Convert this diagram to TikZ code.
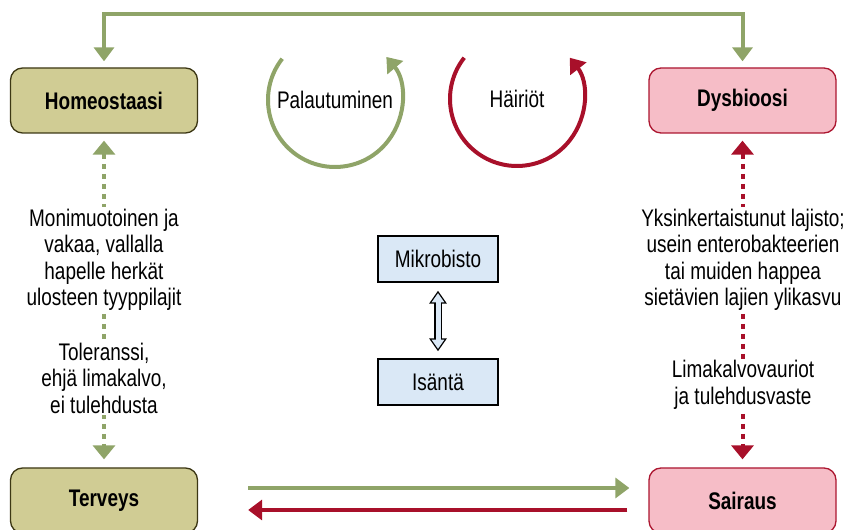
\documentclass[tikz,border=0pt]{standalone}
\usepackage{fontspec}
\setmainfont[FakeStretch=0.79]{Liberation Sans}
\usepackage{tikz}
\usetikzlibrary{arrows.meta,positioning}
\definecolor{olivefill}{RGB}{208,204,148}
\definecolor{olivedraw}{RGB}{60,55,20}
\definecolor{pinkfill}{RGB}{246,189,199}
\definecolor{reddraw}{RGB}{172,22,48}
\definecolor{sage}{RGB}{143,164,104}
\definecolor{darkred}{RGB}{168,16,42}
\definecolor{paleblue}{RGB}{218,232,246}

\begin{document}
\begin{tikzpicture}[x=1pt,y=1pt,node distance=77pt,on grid,
	font=\fontsize{24}{26.5}\selectfont,
	okstate/.style={draw=olivedraw,fill=olivefill,line width=1.3pt,rounded corners=12pt,minimum width=187pt,minimum height=65pt,font=\fontsize{24}{26.5}\selectfont\bfseries},
	badstate/.style={okstate,draw=reddraw,fill=pinkfill},
	partbox/.style={draw=black,fill=paleblue,line width=1.4pt,minimum width=120pt,minimum height=46pt},
	note/.style={fill=white,align=center,inner sep=2pt},
	thick green/.style={draw=sage,line width=4pt,-{Triangle[length=14pt,width=20pt]}},
	thick red/.style={draw=darkred,line width=4pt,-{Triangle[length=14pt,width=20pt]}},
	dotted green/.style={draw=sage,line width=4pt,dash pattern=on 5pt off 5pt,{Triangle[length=14pt,width=22pt]}-{Triangle[length=14pt,width=22pt]}},
	dotted red/.style={dotted green,draw=darkred},
	link outer/.style={draw=black,line width=7.6pt,{Triangle[length=13pt,width=17pt]}-{Triangle[length=13pt,width=17pt]}},
	link inner/.style={draw=paleblue,line width=5pt,{Triangle[length=9.3pt,width=12.2pt]}-{Triangle[length=9.3pt,width=12.2pt]}}]
\useasboundingbox (0,0) rectangle (847,530);

\node[okstate]		(homeo)		at (104,429.5)		{Homeostaasi};
\node[badstate]		(dys)		at (742.5,429.5)	{Dysbioosi};
\node[okstate]		(terv)		at (104,29.5)		{Terveys};
\node[badstate]		(sair)		at (742.5,29.5)		{Sairaus};

\node[partbox]		(mikro)		at (438,271)		{Mikrobisto};
\node[partbox]		(isanta)	[below=123pt of mikro]	{Isäntä};

\node				(palaut)	at (335,430)		{Palautuminen};
\node				(hairiot)	at (517,431)		{Häiriöt};

\draw[thick green,{Triangle[length=14pt,width=20pt]}-{Triangle[length=14pt,width=20pt]},shorten <=6pt,shorten >=6pt]
	(homeo.north) |- (516,516) -| (dys.north);

\draw[dotted green,shorten <=7pt,shorten >=8pt]	(homeo.south) -- (terv.north);
\draw[dotted red,shorten <=7pt,shorten >=8pt]	(dys.south) -- (sair.north);

\node[note]			(homeo_txt)	at (104,270)	{Monimuotoinen ja\\vakaa, vallalla\\hapelle herkät\\ulosteen tyyppilajit};
\node[note]			(terv_txt)	at (104,152)	{Toleranssi,\\ehjä limakalvo,\\ei tulehdusta};
\node[note]			(dys_txt)	at (743,270)	{Yksinkertaistunut lajisto;\\usein enterobakteerien\\tai muiden happea\\sietävien lajien ylikasvu};
\node[note]			(sair_txt)	at (743,145)	{Limakalvovauriot\\ja tulehdusvaste};

\draw[thick green]	(palaut)+(142:67) arc[start angle=142,end angle=400,radius=67];
\draw[thick red]	(hairiot)+(142:67) arc[start angle=142,end angle=398,radius=67];

\draw[link outer,shorten <=8pt,shorten >=7pt]		(mikro.south) -- (isanta.north);
\draw[link inner,shorten <=10.4pt,shorten >=9.4pt]	(mikro.south) -- (isanta.north);

\draw[thick green,shorten <=50pt,shorten >=19pt]	([yshift=12.5pt]terv.east) -- ([yshift=12.5pt]sair.west);
\draw[thick red,shorten <=21pt,shorten >=50pt]		([yshift=-9.5pt]sair.west) -- ([yshift=-9.5pt]terv.east);
\end{tikzpicture}
\end{document}
